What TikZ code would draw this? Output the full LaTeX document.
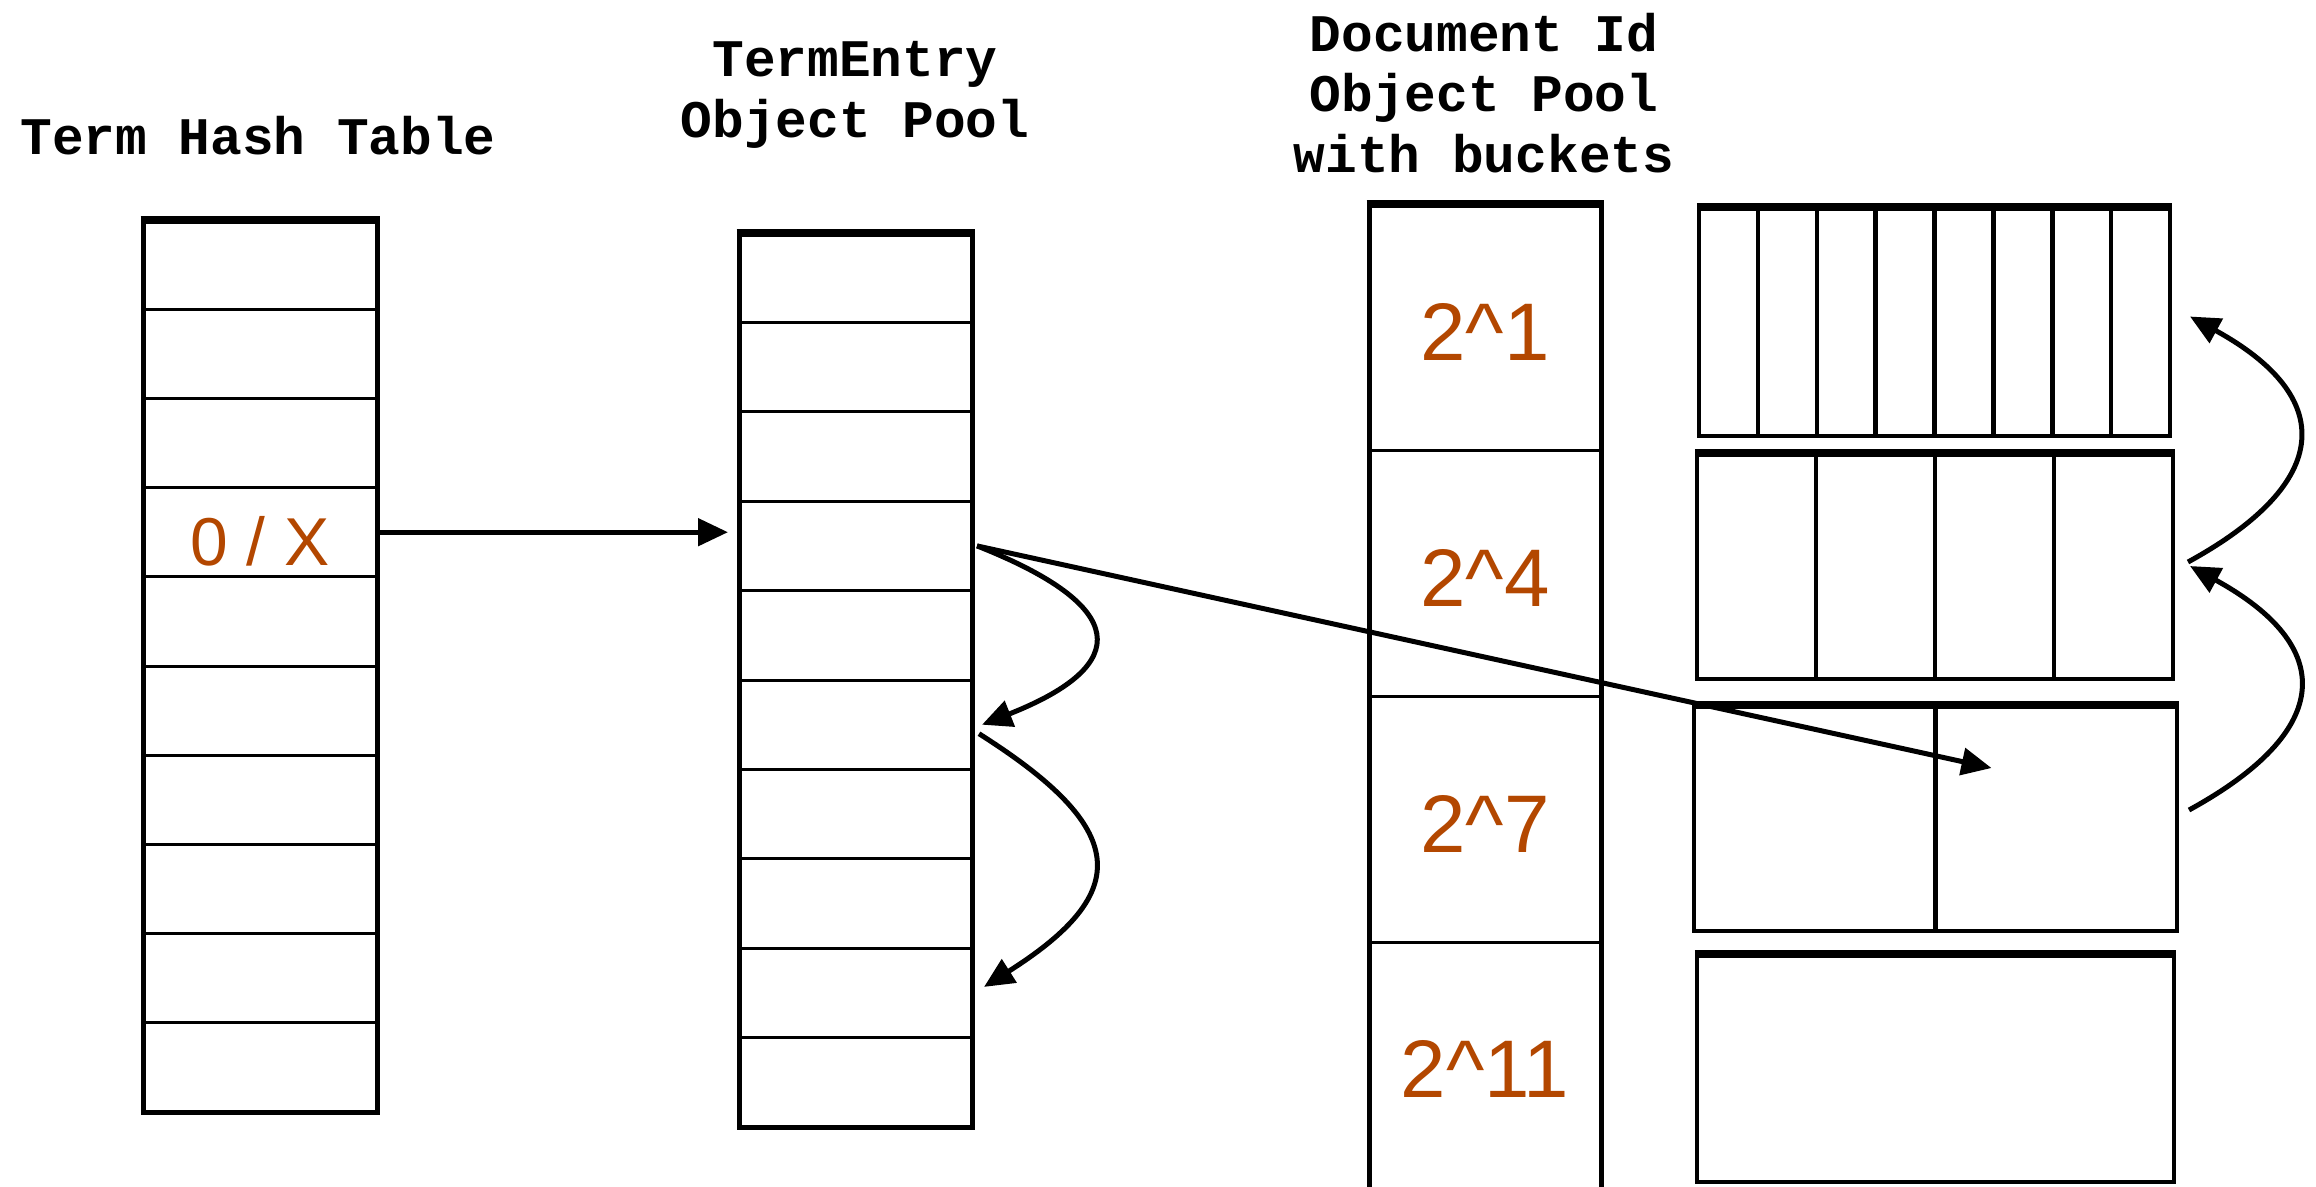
\documentclass[tikz,border=0pt]{standalone}
\usepackage{fontspec}
\setmainfont{Liberation Sans}
\newfontfamily\titlefont{Liberation Mono}
\usetikzlibrary{arrows.meta,calc}
\definecolor{orng}{RGB}{179,71,0}
\begin{document}
\begin{tikzpicture}[x=1bp,y=-1bp,
  ttl/.style={font=\titlefont\bfseries\fontsize{53}{61}\selectfont, align=center, inner sep=0pt},
  lbl/.style={text=orng, inner sep=0pt, font=\fontsize{82}{90}\selectfont},
  rowcell/.style={draw, line width=3bp, inner sep=0pt, outer sep=0pt, minimum width=#1},
  outerline/.style={line width=5bp},
  topline/.style={line width=8.5bp},
  divline/.style={line width=4.5bp},
  arr/.style={line width=5bp, -{Triangle[length=30bp,width=27bp]}},
]
\clip (0,0) rectangle (2316,1186);
\fill[white] (0,0) rectangle (2316,1186);

% titles
\node[ttl] (ttlhash) at (258,136) {Term Hash Table};
\node[ttl] (ttlterm) at (855,95) {TermEntry\\Object Pool};
\node[ttl] (ttldoc) at (1484,93) {Document Id\\Object Pool\\with buckets};

% term hash table
\foreach \k in {1,...,10}
  \node[rowcell=234bp, minimum height=89.2bp] (h\k) at (260,{220+(\k-0.5)*89.2}) {};
\draw[outerline] (h1.north west) rectangle (h10.south east);
\draw[topline] ([xshift=-2.5bp]h1.north west) -- ([xshift=2.5bp]h1.north east);
\node[lbl, font=\fontsize{68}{76}\selectfont] (zx) at (260,541) {0 / X};

% term entry pool
\foreach \k in {1,...,10}
  \node[rowcell=233bp, minimum height=89.4bp] (t\k) at (855.5,{233+(\k-0.5)*89.4}) {};
\draw[outerline] (t1.north west) rectangle (t10.south east);
\draw[topline] ([xshift=-2.5bp]t1.north west) -- ([xshift=2.5bp]t1.north east);

% document id pool
\foreach \k in {1,...,4}
  \node[rowcell=232bp, minimum height=246bp] (d\k) at (1485,{204+(\k-0.5)*246}) {};
\draw[outerline] (d1.north west) -- (d4.south west);
\draw[outerline] (d1.north east) -- (d4.south east);
\draw[topline] ([xshift=-2.5bp]d1.north west) -- ([xshift=2.5bp]d1.north east);
\node[lbl] (l1) at (1485,332) {2\^{}1};
\node[lbl] (l4) at (1485,578) {2\^{}4};
\node[lbl] (l7) at (1485,824) {2\^{}7};
\node[lbl] (l11) at (1485,1069) {2\^{}11};

% buckets
\node[rowcell=471bp, minimum height=229bp, line width=4.5bp] (b1) at (1934.5,321.5) {};
\node[rowcell=476bp, minimum height=226bp, line width=4.5bp] (b2) at (1935,566) {};
\node[rowcell=483bp, minimum height=226bp, line width=4.5bp] (b3) at (1935.5,818) {};
\node[rowcell=477bp, minimum height=228bp, line width=4.5bp] (b4) at (1935.5,1068) {};
\foreach \b in {b1,b2,b3,b4}
  \draw[topline] ([xshift=-2.25bp]\b.north west) -- ([xshift=2.25bp]\b.north east);
\foreach \i in {1,...,7}
  \draw[divline] ($(b1.north west)!\i/8!(b1.north east)$) -- ($(b1.south west)!\i/8!(b1.south east)$);
\foreach \i in {1,...,3}
  \draw[divline] ($(b2.north west)!\i/4!(b2.north east)$) -- ($(b2.south west)!\i/4!(b2.south east)$);
\draw[divline] (b3.north) -- (b3.south);

% connectors
\coordinate (hx) at (t4.west |- h4.east);
\draw[arr] (h4.east) -- ([xshift=-11bp]hx);
\coordinate (tstart) at ([xshift=5bp]t4.east);
\coordinate (b3tgt) at ([shift={(56,-50)}]b3.center);
\draw[arr] (tstart) -- (b3tgt);
\draw[arr] (tstart) .. controls +(152,60) and +(152,-60) .. ([xshift=10bp]t6.east);
\draw[arr] ([shift={(7,9)}]t6.east) .. controls +(150,95) and +(150,-95) .. ([shift={(12,-6)}]t9.east);
\draw[arr] ([shift={(12,-8)}]b3.east) .. controls +(146,-80) and +(146,80) .. ([xshift=17bp]b2.east);
\draw[arr] ([shift={(15,-4)}]b2.east) .. controls +(146,-80) and +(146,80) .. ([shift={(20,-5)}]b1.east);
\end{tikzpicture}
\end{document}
